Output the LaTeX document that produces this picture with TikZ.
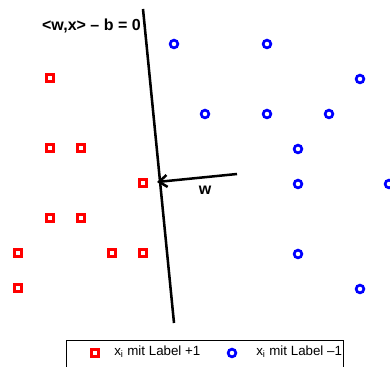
\documentclass[tikz,border=0pt]{standalone}
\usepackage{fontspec}
\setmainfont{Liberation Sans}
\usetikzlibrary{arrows.meta}
\begin{document}
\begin{tikzpicture}[x=0.75pt,y=-0.75pt,
  posmark/.style={draw=red,line width=2pt,fill=white,rectangle,minimum size=4.8pt,inner sep=0pt},
  negmark/.style={draw=blue,line width=2pt,fill=white,circle,minimum size=5.8pt,inner sep=0pt},
  lbl/.style={font=\fontsize{12pt}{14pt}\selectfont\bfseries,inner sep=0pt},
  legtxt/.style={font=\fontsize{10pt}{12pt}\selectfont,inner sep=0pt,anchor=west}]
\useasboundingbox (0,0) rectangle (390,367);
% hyperplane
\coordinate (h1) at (143,9);
\coordinate (h2) at (174,323);
\draw[line width=1.9pt] (h1) -- (h2);
\node[lbl,anchor=east] (eq) at (141,26) {<w,x> – b = 0};
% normal vector
\coordinate (w0) at (237,174);
\coordinate (w1) at (157,182);
\draw[line width=1.9pt,-{Straight Barb[length=6pt,width=9pt]}] (w0) -- (w1);
\node[lbl] (wl) at (205,190) {w};
% positive points
\foreach \x/\y [count=\i] in {50/78,50/148,81/148,143/183,50/218,81/218,18/253,112/253,143/253,18/288}
  \node[posmark] (p\i) at (\x,\y) {};
% negative points
\foreach \x/\y [count=\i] in {174/44,267/44,360/79,205/114,267/114,329/114,298/149,298/184,389/184,298/254,360/289}
  \node[negmark] (n\i) at (\x,\y) {};
% legend
\draw[line width=0.7pt] (66,368) -- (66,340) -- (343,340) -- (343,368);
\node[posmark] (lp) at (95,353) {};
\node[legtxt] (lpt) at (114,352) {x\textsubscript{i} mit Label +1};
\node[negmark] (ln) at (232,353) {};
\node[legtxt] (lnt) at (256,352) {x\textsubscript{i} mit Label –1};
\end{tikzpicture}
\end{document}
